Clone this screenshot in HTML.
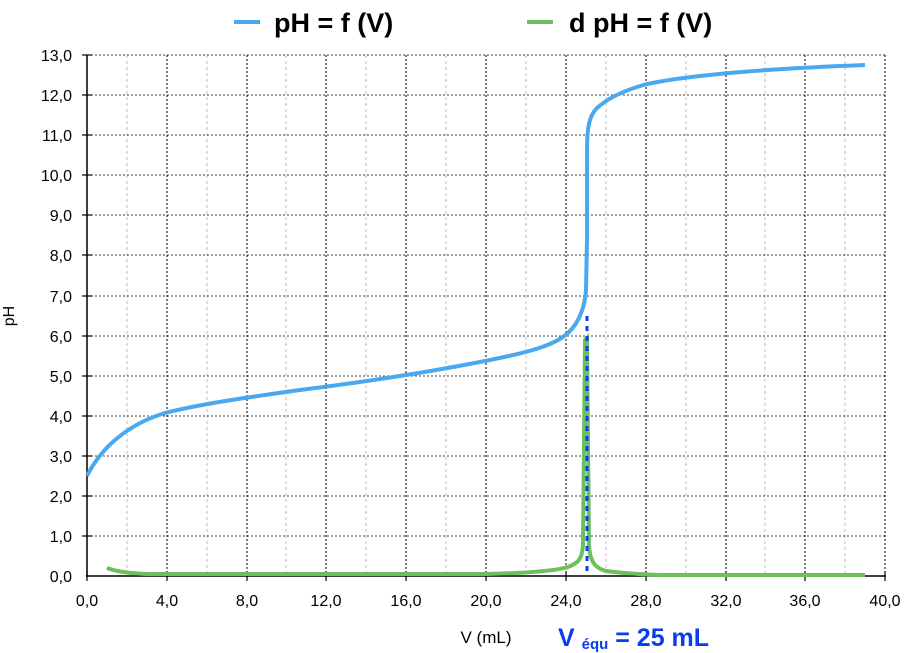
<!DOCTYPE html>
<html><head><meta charset="utf-8"><style>
body{margin:0;background:#fff;}
svg{display:block;font-family:"Liberation Sans",sans-serif;}
</style></head><body>
<svg width="909" height="653" viewBox="0 0 909 653" xmlns="http://www.w3.org/2000/svg">
<g stroke="#bbb" stroke-width="1" stroke-dasharray="3,3">
<line x1="127" y1="55" x2="127" y2="576"/><line x1="207" y1="55" x2="207" y2="576"/><line x1="286" y1="55" x2="286" y2="576"/><line x1="366" y1="55" x2="366" y2="576"/><line x1="446" y1="55" x2="446" y2="576"/><line x1="526" y1="55" x2="526" y2="576"/><line x1="606" y1="55" x2="606" y2="576"/><line x1="686" y1="55" x2="686" y2="576"/><line x1="765" y1="55" x2="765" y2="576"/><line x1="845" y1="55" x2="845" y2="576"/>
</g>
<g stroke="#000" stroke-width="1" stroke-dasharray="2,2">
<line x1="167" y1="55" x2="167" y2="576"/><line x1="247" y1="55" x2="247" y2="576"/><line x1="326" y1="55" x2="326" y2="576"/><line x1="406" y1="55" x2="406" y2="576"/><line x1="486" y1="55" x2="486" y2="576"/><line x1="566" y1="55" x2="566" y2="576"/><line x1="646" y1="55" x2="646" y2="576"/><line x1="726" y1="55" x2="726" y2="576"/><line x1="805" y1="55" x2="805" y2="576"/><line x1="885" y1="55" x2="885" y2="576"/>
</g>
<g stroke="#000" stroke-width="0.8" stroke-dasharray="2,2">
<line x1="87" y1="55" x2="885" y2="55"/><line x1="87" y1="95" x2="885" y2="95"/><line x1="87" y1="135" x2="885" y2="135"/><line x1="87" y1="175" x2="885" y2="175"/><line x1="87" y1="215" x2="885" y2="215"/><line x1="87" y1="255" x2="885" y2="255"/><line x1="87" y1="296" x2="885" y2="296"/><line x1="87" y1="336" x2="885" y2="336"/><line x1="87" y1="376" x2="885" y2="376"/><line x1="87" y1="416" x2="885" y2="416"/><line x1="87" y1="456" x2="885" y2="456"/><line x1="87" y1="496" x2="885" y2="496"/><line x1="87" y1="536" x2="885" y2="536"/>
</g>
<g stroke="#000" stroke-width="1.5">
<line x1="87" y1="55" x2="87" y2="577"/><line x1="86" y1="576" x2="886" y2="576"/>
</g>
<g stroke="#000" stroke-width="1.2">
<line x1="82" y1="55" x2="92" y2="55"/><line x1="82" y1="95" x2="92" y2="95"/><line x1="82" y1="135" x2="92" y2="135"/><line x1="82" y1="175" x2="92" y2="175"/><line x1="82" y1="215" x2="92" y2="215"/><line x1="82" y1="255" x2="92" y2="255"/><line x1="82" y1="296" x2="92" y2="296"/><line x1="82" y1="336" x2="92" y2="336"/><line x1="82" y1="376" x2="92" y2="376"/><line x1="82" y1="416" x2="92" y2="416"/><line x1="82" y1="456" x2="92" y2="456"/><line x1="82" y1="496" x2="92" y2="496"/><line x1="82" y1="536" x2="92" y2="536"/>
<line x1="87" y1="571" x2="87" y2="581"/><line x1="167" y1="571" x2="167" y2="581"/><line x1="247" y1="571" x2="247" y2="581"/><line x1="326" y1="571" x2="326" y2="581"/><line x1="406" y1="571" x2="406" y2="581"/><line x1="486" y1="571" x2="486" y2="581"/><line x1="566" y1="571" x2="566" y2="581"/><line x1="646" y1="571" x2="646" y2="581"/><line x1="726" y1="571" x2="726" y2="581"/><line x1="805" y1="571" x2="805" y2="581"/><line x1="885" y1="571" x2="885" y2="581"/>
</g>
<g font-size="16" text-anchor="end" fill="#000">
<text x="72" y="61">13,0</text><text x="72" y="101">12,0</text><text x="72" y="141">11,0</text><text x="72" y="181">10,0</text><text x="72" y="221">9,0</text><text x="72" y="261">8,0</text><text x="72" y="302">7,0</text><text x="72" y="342">6,0</text><text x="72" y="382">5,0</text><text x="72" y="422">4,0</text><text x="72" y="462">3,0</text><text x="72" y="502">2,0</text><text x="72" y="542">1,0</text><text x="72" y="582">0,0</text>
</g>
<g font-size="16" text-anchor="middle" fill="#000">
<text x="87" y="606">0,0</text><text x="167" y="606">4,0</text><text x="247" y="606">8,0</text><text x="326" y="606">12,0</text><text x="406" y="606">16,0</text><text x="486" y="606">20,0</text><text x="566" y="606">24,0</text><text x="646" y="606">28,0</text><text x="726" y="606">32,0</text><text x="805" y="606">36,0</text><text x="885" y="606">40,0</text>
<text x="486" y="643" font-size="17">V (mL)</text>
</g>
<text transform="translate(14,316) rotate(-90)" font-size="16" text-anchor="middle">pH</text>
<text x="558" y="646" font-size="25" font-weight="bold" fill="#0a3cf0">V <tspan font-size="15" dy="3">équ</tspan><tspan dy="-3"> = 25 mL</tspan></text>
<path d="M87,476 C100,450 125,425 165,413 C200,404 250,397 300,390 C380,380 440,370 490,360 C530,352 555,345 568,333 C580,322 585,305 586,290 L587,240 L587,150 C587,125 590,115 597,108 C608,98 625,90 647,84 C690,75 760,69 865,65" fill="none" stroke="#4aa8ef" stroke-width="4"/>
<path d="M107,568 C115,571 125,573 147,574 L487,574 C530,573 555,571 568,567 C578,563 582,560 583,545 L585,340 L587,338 L589,545 C590,562 595,568 606,571 C620,573 635,574 660,575 L865,575" fill="none" stroke="#6cbf5a" stroke-width="4"/>
<line x1="587" y1="316" x2="587" y2="576" stroke="#0a3cf0" stroke-width="3" stroke-dasharray="5,5"/>
<line x1="234" y1="22" x2="260" y2="22" stroke="#4aa8ef" stroke-width="4"/>
<text x="274" y="32" font-size="27" font-weight="bold">pH = f (V)</text>
<line x1="527" y1="22" x2="553" y2="22" stroke="#6cbf5a" stroke-width="4"/>
<text x="569" y="32" font-size="27" font-weight="bold">d pH = f (V)</text>
</svg>
</body></html>
